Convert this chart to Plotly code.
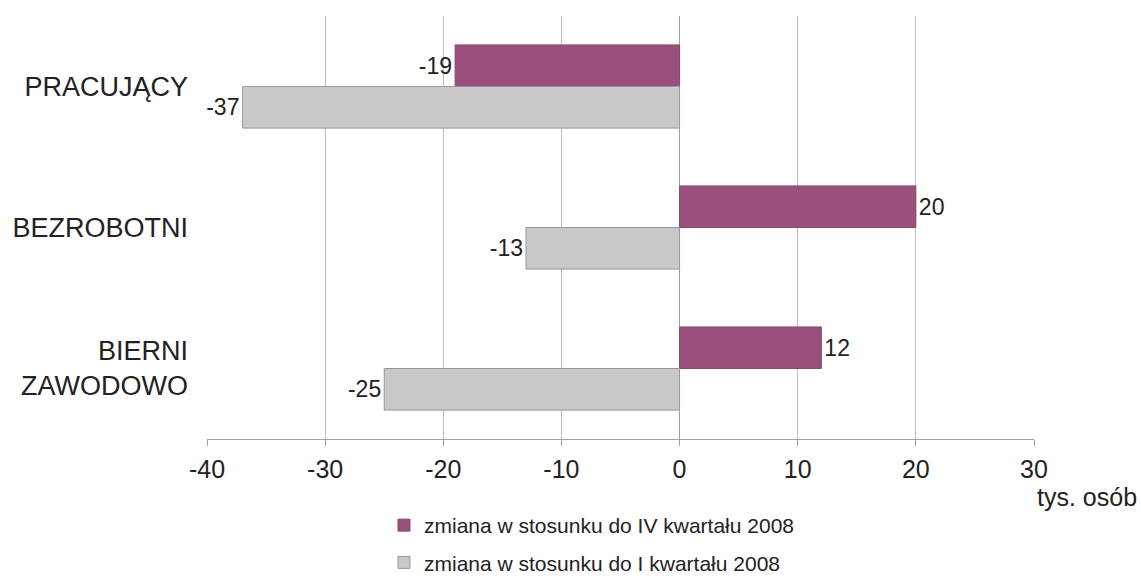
import plotly.graph_objects as go

categories = ["PRACUJĄCY", "BEZROBOTNI", "BIERNI<br>ZAWODOWO"]
series_names = ["zmiana w stosunku do IV kwartału 2008", "zmiana w stosunku do I kwartału 2008"]
vs_q4_2008 = [-19, 20, 12]
vs_q1_2008 = [-37, -13, -25]
x_ticks = [-40, -30, -20, -10, 0, 10, 20, 30]

FONT = "Liberation Sans, Arial, sans-serif"
purple = "#9B4F7B"
gray = "#C9C7C7"

fig = go.Figure()
fig.add_trace(go.Bar(
    y=categories, x=vs_q4_2008, orientation="h", name=series_names[0],
    marker=dict(color=purple, line=dict(color="#8A4A6E", width=1)),
    text=[str(v) for v in vs_q4_2008], textposition="outside",
    textfont=dict(size=23, color="#222"), cliponaxis=False,
    legendgroup="a",
))
fig.add_trace(go.Bar(
    y=categories, x=vs_q1_2008, orientation="h", name=series_names[1],
    marker=dict(color=gray, line=dict(color="#9A9898", width=1)),
    text=[str(v) for v in vs_q1_2008], textposition="outside",
    textfont=dict(size=23, color="#222"), cliponaxis=False,
    legendgroup="b",
))

fig.update_layout(
    width=1141, height=576,
    margin=dict(l=207, r=107, t=16, b=137),
    paper_bgcolor="white", plot_bgcolor="white",
    font=dict(family=FONT, color="#222"),
    barmode="group", bargap=0.41, bargroupgap=0,
    showlegend=True,
    legend=dict(
        x=0.214, xref="paper", y=0.1233, yref="container",
        xanchor="left", yanchor="top",
        font=dict(size=21, color="#222"),
        traceorder="grouped", tracegroupgap=7,
        itemwidth=30,
    ),
    annotations=[dict(
        text="tys. osób", xref="paper", yref="paper",
        x=1.0 + 53 / 827, y=-0.137, xanchor="center", yanchor="middle",
        showarrow=False, font=dict(size=25, color="#222"),
    )],
)
fig.update_xaxes(
    range=[-40, 30], tickvals=x_ticks, ticktext=[str(v) for v in x_ticks],
    showgrid=True, gridcolor="#BDBDBD", gridwidth=1,
    showline=True, linecolor="#A0A0A0", linewidth=1,
    ticks="outside", ticklen=6, tickcolor="#A0A0A0",
    tickfont=dict(size=25, color="#222"), ticklabelstandoff=2,
    zeroline=True, zerolinecolor="#A0A0A0", zerolinewidth=1,
    mirror=False, automargin=False,
)
fig.update_yaxes(
    autorange="reversed", showgrid=False, showline=False, zeroline=False,
    tickfont=dict(size=27, color="#222"), ticks="", ticklabelstandoff=18,
    automargin=False,
)

fig.write_html(
    "out.html",
    config={"displayModeBar": False},
    post_script="document.body.style.margin='0';document.body.style.overflow='hidden';",
)
